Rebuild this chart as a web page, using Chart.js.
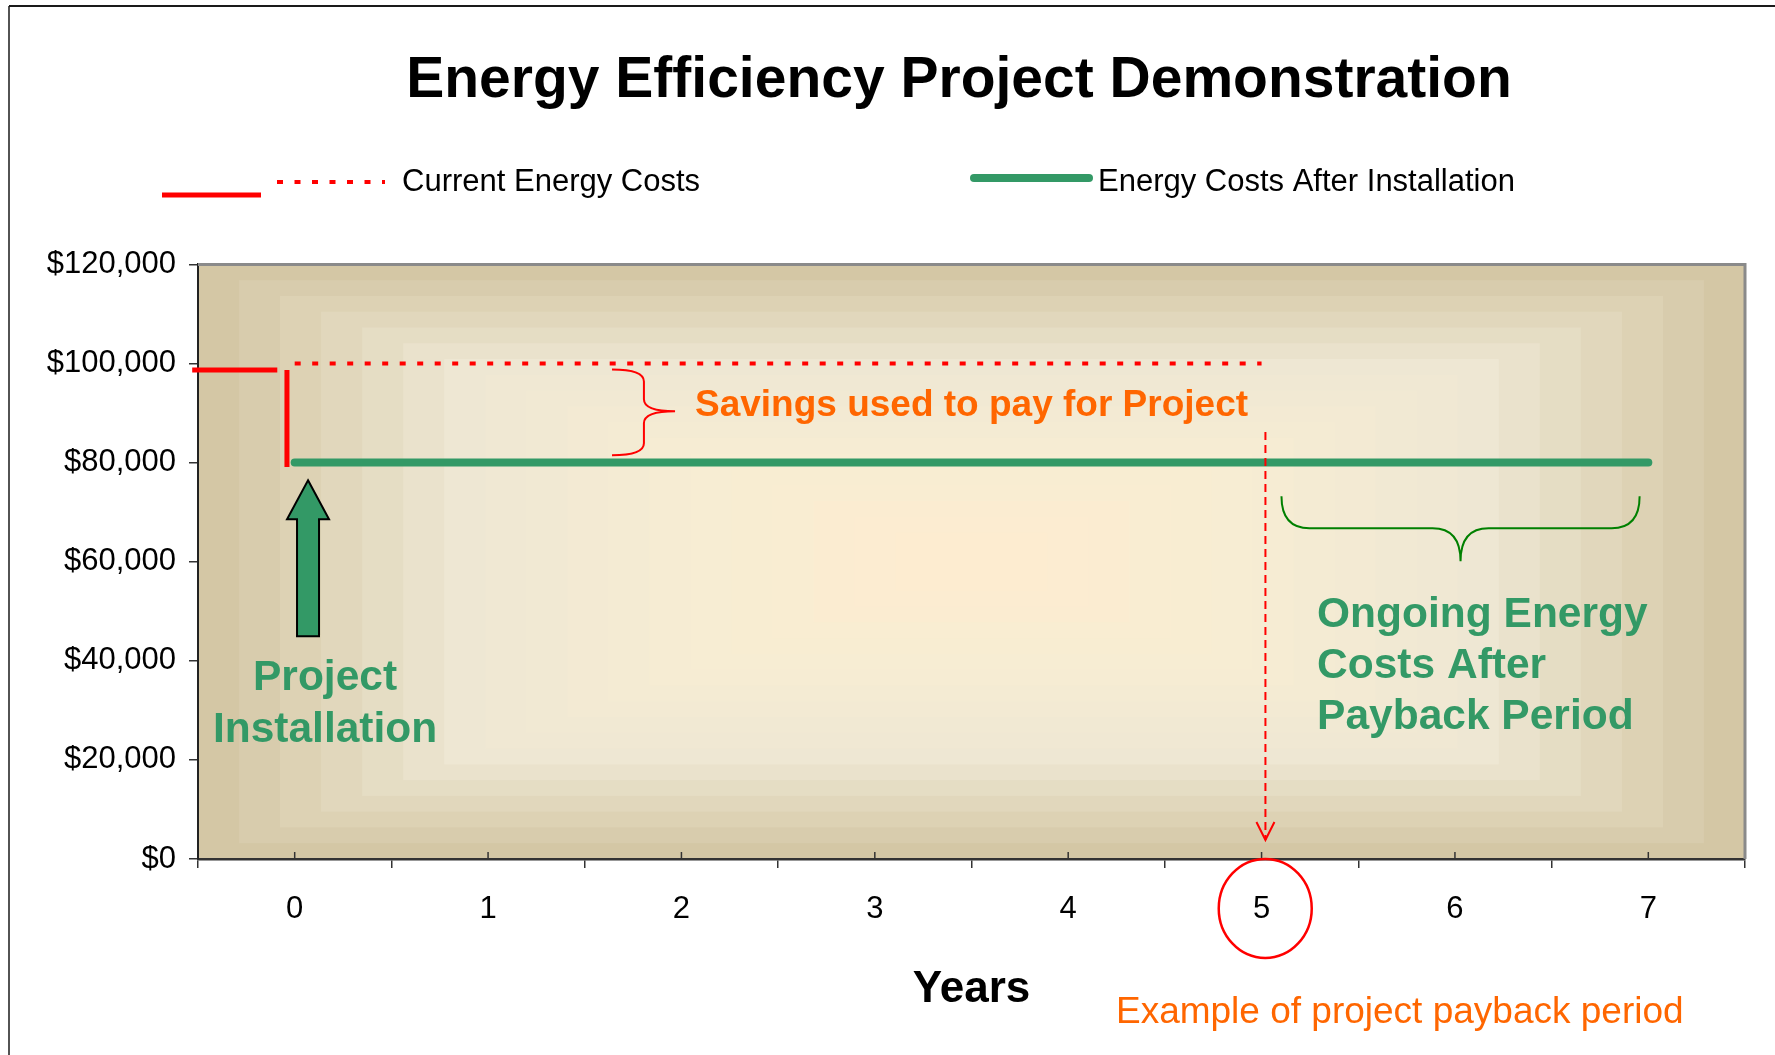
<!DOCTYPE html>
<html>
<head>
<meta charset="utf-8">
<title>Energy Efficiency Project Demonstration</title>
<script src="https://cdn.jsdelivr.net/npm/chart.js@4.4.1/dist/chart.umd.min.js"></script>
<style>
  html, body { margin: 0; padding: 0; background: #fff; overflow: hidden; }
  #wrap { position: relative; width: 1775px; height: 1055px; }
</style>
</head>
<body>
<div id="wrap"><canvas id="chart" width="1775" height="1055"></canvas></div>
<script>
// --- data ---
const years             = ['0', '1', '2', '3', '4', '5', '6', '7'];
const currentCosts      = [100000, 100000, 100000, 100000, 100000, 100000, null, null];
const afterInstallCosts = [80000, 80000, 80000, 80000, 80000, 80000, 80000, 80000];
const preInstallLevel   = [{ x: -0.53, y: 98700 }, { x: -0.09, y: 98700 }];
const installDrop       = [{ x: -0.04, y: 98700 }, { x: -0.04, y: 79100 }];
const yTickValues       = [0, 20000, 40000, 60000, 80000, 100000, 120000];
const paybackYear       = 5;

const RED         = '#ff0000';
const GREEN       = '#339966';
const BRACE_GREEN = '#008000';
const ORANGE      = '#ff6600';
const FONT        = "'Liberation Sans', Arial, sans-serif";

Chart.defaults.font.family = FONT;
Chart.defaults.color = '#000';

// colour of the stepped plot background, t = 0 at the edge, 1 in the middle
const bandStops = [
  [0.00, [212, 199, 165]],
  [0.35, [238, 231, 211]],
  [0.70, [247, 237, 211]],
  [1.00, [253, 236, 208]]
];
function bandColor(t) {
  for (let i = 1; i < bandStops.length; i++) {
    const [t1, c1] = bandStops[i];
    const [t0, c0] = bandStops[i - 1];
    if (t <= t1) {
      const f = (t - t0) / (t1 - t0);
      const c = c0.map((v, k) => Math.round(v + (c1[k] - v) * f));
      return `rgb(${c[0]},${c[1]},${c[2]})`;
    }
  }
  return 'rgb(253,236,208)';
}

const backgroundPlugin = {
  id: 'plotBackground',
  beforeDraw(chart) {
    const { ctx, chartArea: a } = chart;
    ctx.save();
    // outer frame
    ctx.strokeStyle = '#1a1a1a';
    ctx.lineWidth = 2;
    ctx.beginPath(); ctx.moveTo(9, 6); ctx.lineTo(chart.width, 6); ctx.stroke();
    ctx.lineWidth = 1.5;
    ctx.beginPath(); ctx.moveTo(9, 6); ctx.lineTo(9, chart.height); ctx.stroke();

    const steps = 18;
    const hw = (a.right - a.left) / 2, hh = (a.bottom - a.top) / 2;
    const cx = a.left + hw, cy = a.top + hh;
    for (let i = 0; i < steps; i++) {
      const k = 1 - i / 18.85;
      ctx.fillStyle = bandColor(i / (steps - 1));
      ctx.fillRect(cx - hw * k, cy - hh * k, 2 * hw * k, 2 * hh * k);
    }
    ctx.restore();
  }
};

function text(ctx, str, x, y, font, color, align) {
  ctx.font = font;
  ctx.fillStyle = color;
  ctx.textAlign = align || 'left';
  ctx.textBaseline = 'middle';
  ctx.fillText(str, x, y + 3);
}

const annotationPlugin = {
  id: 'annotations',
  afterDatasetsDraw(chart) {
    const { ctx, chartArea: a } = chart;
    const X = v => chart.scales.xs.getPixelForValue(v);
    const Y = v => chart.scales.y.getPixelForValue(v);
    ctx.save();

    // top / right frame of the plot
    ctx.strokeStyle = '#8a8a8a';
    ctx.lineWidth = 3;
    ctx.beginPath();
    ctx.moveTo(a.left, a.top); ctx.lineTo(a.right, a.top); ctx.lineTo(a.right, a.bottom);
    ctx.stroke();

    // small inner tick marks at year centres
    ctx.strokeStyle = '#333';
    ctx.lineWidth = 1.5;
    years.forEach((_, i) => {
      const px = chart.scales.x.getPixelForValue(i);
      ctx.beginPath(); ctx.moveTo(px, a.bottom - 1); ctx.lineTo(px, a.bottom - 7); ctx.stroke();
    });

    // red brace "}" between the two cost levels
    {
      const x1 = X(1.641), x2 = X(1.806), x3 = X(1.967);
      const yt = Y(98800), ym = Y(90350), yb = Y(81500), r = 12;
      ctx.strokeStyle = RED;
      ctx.lineWidth = 2;
      ctx.beginPath();
      ctx.moveTo(x1, yt);
      ctx.quadraticCurveTo(x2, yt, x2, yt + r);
      ctx.lineTo(x2, ym - r);
      ctx.quadraticCurveTo(x2, ym, x3, ym);
      ctx.quadraticCurveTo(x2, ym, x2, ym + r);
      ctx.lineTo(x2, yb - r);
      ctx.quadraticCurveTo(x2, yb, x1, yb);
      ctx.stroke();
    }
    text(ctx, 'Savings used to pay for Project', X(2.07), Y(92170), `bold 37px ${FONT}`, ORANGE);

    // green installation arrow
    {
      const cx = X(0.069), tip = Y(76440), base = Y(68570), bot = Y(44975);
      ctx.fillStyle = GREEN;
      ctx.strokeStyle = '#000';
      ctx.lineWidth = 2;
      ctx.beginPath();
      ctx.moveTo(cx, tip);
      ctx.lineTo(cx + 21, base); ctx.lineTo(cx + 11, base); ctx.lineTo(cx + 11, bot);
      ctx.lineTo(cx - 11, bot); ctx.lineTo(cx - 11, base); ctx.lineTo(cx - 21, base);
      ctx.closePath();
      ctx.fill(); ctx.stroke();
    }
    const green42 = `bold 42.5px ${FONT}`;
    text(ctx, 'Project', X(0.157), Y(37110), green42, GREEN, 'center');
    text(ctx, 'Installation', X(0.157), Y(26620), green42, GREEN, 'center');

    // payback marker
    {
      const px = X(paybackYear + 0.02);
      ctx.strokeStyle = RED;
      ctx.lineWidth = 2;
      ctx.setLineDash([8, 5]);
      ctx.beginPath(); ctx.moveTo(px, Y(86180)); ctx.lineTo(px, Y(3830)); ctx.stroke();
      ctx.setLineDash([]);
      ctx.beginPath();
      ctx.moveTo(px - 9, Y(7460)); ctx.lineTo(px, Y(3830)); ctx.lineTo(px + 9, Y(7460));
      ctx.stroke();
      ctx.lineWidth = 2.5;
      ctx.beginPath();
      ctx.ellipse(X(paybackYear + 0.019), Y(-9980), 46.5, 49.5, 0, 0, Math.PI * 2);
      ctx.stroke();
    }
    text(ctx, 'Example of project payback period', X(4.247), Y(-30450), `37px ${FONT}`, ORANGE);

    // green brace over the after-payback years
    {
      const xl = X(6.029 - 0.926), xr = X(6.029 + 0.926), xc = X(6.029);
      const yt = Y(73210), yh = Y(66755), yp = Y(60100), R = 28;
      ctx.strokeStyle = BRACE_GREEN;
      ctx.lineWidth = 2;
      ctx.beginPath();
      ctx.moveTo(xl, yt);
      ctx.quadraticCurveTo(xl, yh, xl + R, yh);
      ctx.lineTo(xc - R, yh);
      ctx.quadraticCurveTo(xc, yh, xc, yp);
      ctx.quadraticCurveTo(xc, yh, xc + R, yh);
      ctx.lineTo(xr - R, yh);
      ctx.quadraticCurveTo(xr, yh, xr, yt);
      ctx.stroke();
    }
    text(ctx, 'Ongoing Energy', X(5.287), Y(49815), green42, GREEN);
    text(ctx, 'Costs After', X(5.287), Y(39530), green42, GREEN);
    text(ctx, 'Payback Period', X(5.287), Y(29245), green42, GREEN);

    // legend
    const ds = chart.data.datasets;
    ctx.lineCap = 'butt';
    ctx.strokeStyle = ds[2].borderColor;
    ctx.lineWidth = ds[2].borderWidth;
    ctx.beginPath(); ctx.moveTo(162, 195); ctx.lineTo(261, 195); ctx.stroke();

    ctx.strokeStyle = ds[0].borderColor;
    ctx.lineWidth = ds[0].borderWidth;
    ctx.setLineDash(ds[0].borderDash);
    ctx.beginPath(); ctx.moveTo(277, 182); ctx.lineTo(385, 182); ctx.stroke();
    ctx.setLineDash([]);
    text(ctx, ds[0].label, 402, 179, `31px ${FONT}`, '#000');

    ctx.strokeStyle = ds[1].borderColor;
    ctx.lineWidth = ds[1].borderWidth;
    ctx.lineCap = 'round';
    ctx.beginPath(); ctx.moveTo(974, 178); ctx.lineTo(1089, 178); ctx.stroke();
    text(ctx, ds[1].label, 1098, 179, `31px ${FONT}`, '#000');

    ctx.restore();
  }
};

new Chart(document.getElementById('chart'), {
  type: 'line',
  data: {
    labels: years,
    datasets: [
      {
        label: 'Current Energy Costs',
        data: currentCosts,
        borderColor: RED,
        borderWidth: 4,
        borderDash: [6, 11.5],
        borderCapStyle: 'butt',
        pointRadius: 0,
        fill: false
      },
      {
        label: 'Energy Costs After Installation',
        data: afterInstallCosts,
        borderColor: GREEN,
        borderWidth: 8,
        borderCapStyle: 'round',
        pointRadius: 0,
        fill: false
      },
      {
        label: '',
        data: preInstallLevel,
        xAxisID: 'xs',
        borderColor: RED,
        borderWidth: 5,
        pointRadius: 0,
        clip: false
      },
      {
        label: '',
        data: installDrop,
        xAxisID: 'xs',
        borderColor: RED,
        borderWidth: 5,
        pointRadius: 0,
        clip: false
      }
    ]
  },
  options: {
    responsive: false,
    animation: false,
    devicePixelRatio: 1,
    // negative right padding + an empty right axis keep the title centred where the original has it
    layout: { padding: { left: 0, right: -143, top: 10, bottom: 0 } },
    plugins: {
      legend: { display: false },
      tooltip: { enabled: false },
      title: {
        display: true,
        text: 'Energy Efficiency Project Demonstration',
        color: '#000',
        font: { size: 57, weight: 'bold' },
        padding: { top: 37, bottom: 149 }
      }
    },
    scales: {
      x: {
        type: 'category',
        offset: true,
        grid: { offset: true, drawOnChartArea: false, tickLength: 9, color: '#333', lineWidth: 1.5 },
        border: { color: '#333', width: 2.5 },
        ticks: { font: { size: 31 }, color: '#000', padding: 23, maxRotation: 0, autoSkip: false },
        title: {
          display: true,
          text: 'Years',
          color: '#000',
          font: { size: 44, weight: 'bold' },
          padding: { top: 0, bottom: 39 }
        },
        afterFit: s => { s.height = 196; }
      },
      xs: { type: 'linear', display: false, min: -0.5, max: 7.5 },
      y: {
        min: 0,
        max: 120000,
        afterBuildTicks: s => { s.ticks = yTickValues.map(v => ({ value: v })); },
        grid: { drawOnChartArea: false, tickLength: 9, color: '#333', lineWidth: 1.5 },
        border: { color: '#222', width: 2 },
        ticks: {
          font: { size: 31 },
          color: '#000',
          padding: 13,
          callback: v => '$' + Number(v).toLocaleString('en-US')
        },
        afterFit: s => { s.width = 198; }
      },
      yr: {
        position: 'right',
        grid: { display: false },
        border: { display: false },
        ticks: { display: false },
        afterFit: s => { s.width = 173; }
      }
    }
  },
  plugins: [backgroundPlugin, annotationPlugin]
});
</script>
</body>
</html>
